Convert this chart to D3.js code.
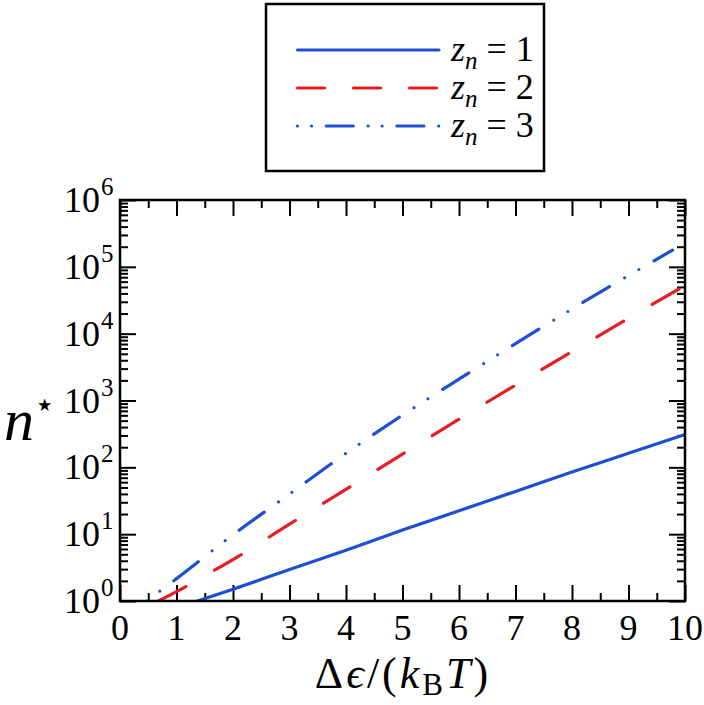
<!DOCTYPE html>
<html>
<head>
<meta charset="utf-8">
<script src="https://cdn.jsdelivr.net/npm/d3@7/dist/d3.min.js"></script>
<style>
  html, body { margin: 0; padding: 0; background: #fff; }
  svg { display: block; }
</style>
</head>
<body>
<svg id="chart" width="704" height="705" font-family="'Liberation Serif', 'DejaVu Serif', 'Times New Roman', serif"></svg>
<script>
// ---- data ----
const xTickValues = [0, 1, 2, 3, 4, 5, 6, 7, 8, 9, 10];
const xTickLabels = ["0", "1", "2", "3", "4", "5", "6", "7", "8", "9", "10"];
const yTickExponents = [0, 1, 2, 3, 4, 5, 6];
const seriesNames = ["1", "2", "3"];

const z1X = [1.37, 2, 3, 4, 5, 6, 7, 8, 9, 10];
const z1N = [1, 1.5, 2.95, 5.75, 11.5, 22.4, 43.6, 85, 162, 309];
const z2X = [0.68, 1, 1.5, 2, 3, 4, 5, 6, 7, 8, 9, 10];
const z2N = [1, 1.38, 2.4, 4.17, 14.1, 46.8, 158, 525, 1700, 5370, 17000, 52500];
const z3X = [0.47, 1, 2, 3, 4, 5, 6, 7, 8, 9, 9.78];
const z3N = [1, 2.16, 9.8, 39.8, 162, 603, 2090, 7080, 23400, 74100, 178000];

// ---- layout ----
const L = 120, R = 685, T = 200, B = 601;
const blue = "#1d4fd3", red = "#e61e24";
const FF = "'Liberation Serif', 'DejaVu Serif', serif";

const svg = d3.select("#chart");
const x = d3.scaleLinear().domain([0, 10]).range([L, R]);
const y = d3.scaleLog().domain([1, 1e6]).range([B, T]);

const xMinor = d3.range(0.5, 10, 1);
const yMinor = [];
yTickExponents.slice(0, -1).forEach(e => { for (let m = 2; m <= 9; m++) yMinor.push(m * Math.pow(10, e)); });
const yMajor = yTickExponents.map(e => Math.pow(10, e));

function styleAxis(g) {
  g.select(".domain").remove();
  g.selectAll(".tick line").attr("stroke", "#000").attr("stroke-width", 2);
  g.selectAll(".tick text").remove();
}
svg.append("g").attr("transform", `translate(0,${B})`).call(d3.axisTop(x).tickValues(xTickValues).tickSize(16).tickSizeOuter(0)).call(styleAxis);
svg.append("g").attr("transform", `translate(0,${B})`).call(d3.axisTop(x).tickValues(xMinor).tickSize(8).tickSizeOuter(0)).call(styleAxis);
svg.append("g").attr("transform", `translate(0,${T})`).call(d3.axisBottom(x).tickValues(xTickValues).tickSize(16).tickSizeOuter(0)).call(styleAxis);
svg.append("g").attr("transform", `translate(0,${T})`).call(d3.axisBottom(x).tickValues(xMinor).tickSize(8).tickSizeOuter(0)).call(styleAxis);
svg.append("g").attr("transform", `translate(${L},0)`).call(d3.axisRight(y).tickValues(yMajor).tickSize(16).tickSizeOuter(0)).call(styleAxis);
svg.append("g").attr("transform", `translate(${L},0)`).call(d3.axisRight(y).tickValues(yMinor).tickSize(8).tickSizeOuter(0)).call(styleAxis);
svg.append("g").attr("transform", `translate(${R},0)`).call(d3.axisLeft(y).tickValues(yMajor).tickSize(16).tickSizeOuter(0)).call(styleAxis);
svg.append("g").attr("transform", `translate(${R},0)`).call(d3.axisLeft(y).tickValues(yMinor).tickSize(8).tickSizeOuter(0)).call(styleAxis);

svg.append("clipPath").attr("id", "clip").append("rect").attr("x", L).attr("y", T).attr("width", R - L).attr("height", B - T);

const line = d3.line().x(d => x(d[0])).y(d => y(d[1])).curve(d3.curveMonotoneX);
const plot = svg.append("g").attr("clip-path", "url(#clip)");
const series = [
  { xs: z1X, ns: z1N, color: blue, dash: null, ldash: null },
  { xs: z2X, ns: z2N, color: red, dash: "31,33", ldash: "27,29" },
  { xs: z3X, ns: z3N, color: blue, dash: "0,16.5,0,17.5,31,17.5", ldash: "0,14,0,14.8,27,14.8" }
];
series.forEach(s => {
  plot.append("path")
    .datum(s.xs.map((v, i) => [v, s.ns[i]]))
    .attr("d", line)
    .attr("fill", "none")
    .attr("stroke", s.color)
    .attr("stroke-width", 3.2)
    .attr("stroke-linecap", "round")
    .attr("stroke-dasharray", s.dash);
});

svg.append("rect").attr("x", L).attr("y", T).attr("width", R - L).attr("height", B - T)
  .attr("fill", "none").attr("stroke", "#000").attr("stroke-width", 2.5);

// x tick labels
svg.append("g").selectAll("text").data(xTickValues).join("text")
  .attr("font-family", FF)
  .attr("x", d => x(d)).attr("y", 640)
  .attr("text-anchor", "middle").attr("font-size", 36)
  .text((d, i) => xTickLabels[i]);

// y tick labels
svg.append("g").selectAll("text").data(yTickExponents).join("text")
  .attr("font-family", FF)
  .attr("x", 100).attr("y", d => y(Math.pow(10, d)) + 12)
  .attr("text-anchor", "end").attr("font-size", 36)
  .text("10");
svg.append("g").selectAll("text").data(yTickExponents).join("text")
  .attr("font-family", FF)
  .attr("x", 101).attr("y", d => y(Math.pow(10, d)) - 5)
  .attr("font-size", 25)
  .text(d => String(d));

// x title
const xt = svg.append("text").attr("font-family", FF).attr("x", 403).attr("y", 688)
  .attr("text-anchor", "middle").attr("font-size", 44).attr("letter-spacing", 3);
xt.append("tspan").text("Δ");
xt.append("tspan").attr("font-style", "italic").text("ϵ");
xt.append("tspan").text("/(");
xt.append("tspan").attr("font-style", "italic").text("k");
xt.append("tspan").attr("font-size", 31).attr("dy", 7).text("B");
xt.append("tspan").attr("font-style", "italic").attr("dy", -7).text("T");
xt.append("tspan").text(")");

// y title
const ytt = svg.append("text").attr("font-family", FF).attr("x", 4).attr("y", 440).attr("font-size", 60);
ytt.append("tspan").attr("font-style", "italic").text("n");
ytt.append("tspan").attr("font-size", 34).attr("dy", -24).text("⋆");

// legend
const lg = svg.append("g");
lg.append("rect").attr("x", 266).attr("y", 4).attr("width", 278).attr("height", 167)
  .attr("fill", "#fff").attr("stroke", "#000").attr("stroke-width", 2.5);
const rowY = [50, 88, 126];
series.forEach((s, i) => {
  lg.append("line").attr("x1", 297.5).attr("x2", 439).attr("y1", rowY[i]).attr("y2", rowY[i])
    .attr("stroke", s.color).attr("stroke-width", 3.2).attr("stroke-linecap", "round")
    .attr("stroke-dasharray", s.ldash);
  const t = lg.append("text").attr("font-family", FF).attr("x", 451).attr("y", rowY[i] + 11).attr("font-size", 36);
  t.append("tspan").attr("font-style", "italic").text("z");
  t.append("tspan").attr("font-style", "italic").attr("font-size", 25).attr("dy", 8).text("n");
  t.append("tspan").attr("dy", -8).text(" = " + seriesNames[i]);
});
</script>
</body>
</html>
